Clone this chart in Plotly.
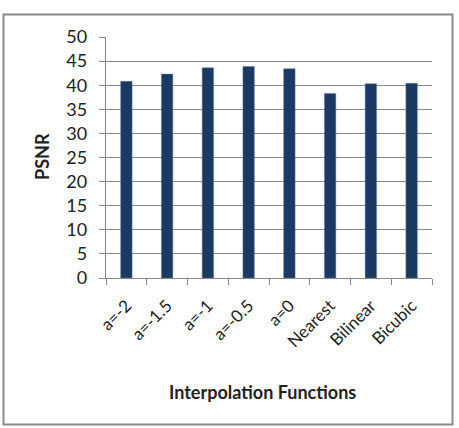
import plotly.graph_objects as go

categories = ["a=-2", "a=-1.5", "a=-1", "a=-0.5", "a=0", "Nearest", "Bilinear", "Bicubic"]
psnr = [40.8, 42.3, 43.6, 43.9, 43.4, 38.3, 40.3, 40.4]
y_ticks = [0, 5, 10, 15, 20, 25, 30, 35, 40, 45, 50]

W, H = 459, 428
L, R, T, B = 106, 27, 37, 150
pw, ph = W - L - R, H - T - B

def px(x):
    return (x - L) / pw

def py(y):
    return (H - B - y) / ph

fig = go.Figure(go.Bar(
    x=categories, y=psnr,
    marker=dict(color="#1b3a63", line=dict(color="#5a7aa0", width=0.5)),
    width=0.28,
))

fig.update_layout(
    width=W, height=H,
    margin=dict(l=L, r=R, t=T, b=B),
    paper_bgcolor="white", plot_bgcolor="white",
    font=dict(family="Lato, Open Sans, sans-serif", color="#222", size=17),
    showlegend=False,
    xaxis=dict(
        tickangle=-45, tickson="boundaries", ticks="outside", ticklen=6,
        tickcolor="#888", showline=True, linecolor="#888", linewidth=1.3,
        tickfont=dict(size=17), ticklabelstandoff=10,
    ),
    yaxis=dict(
        range=[0, 50], tickvals=y_ticks, ticks="outside", ticklen=6,
        tickcolor="#888", showline=True, linecolor="#888", linewidth=1.3,
        showgrid=True, gridcolor="#888888", gridwidth=1.3,
        tickfont=dict(size=18), ticklabelstandoff=8,
        zeroline=False,
    ),
    annotations=[
        dict(text="<b>Interpolation Functions</b>", xref="paper", yref="paper",
             x=px(262), y=py(392), showarrow=False, font=dict(size=18),
             xanchor="center", yanchor="middle"),
        dict(text="<b>PSNR</b>", xref="paper", yref="paper",
             x=px(42), y=py(157), showarrow=False, font=dict(size=18),
             textangle=-90, xanchor="center", yanchor="middle"),
    ],
    shapes=[dict(
        type="rect", xref="paper", yref="paper",
        x0=px(3.5), x1=px(452.5), y0=py(424.5), y1=py(14.5),
        line=dict(color="#8a8a8a", width=2), fillcolor="rgba(0,0,0,0)", layer="below",
    )],
)

fig.write_html("out.html")
